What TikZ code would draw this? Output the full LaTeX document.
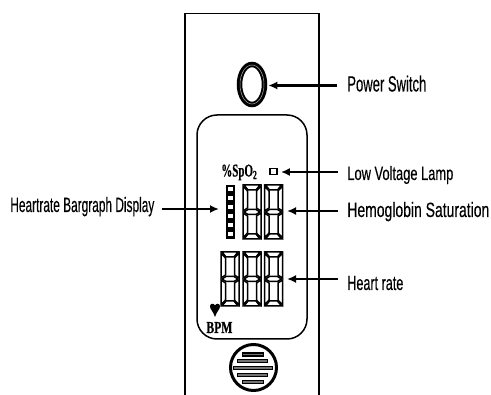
\documentclass[tikz,border=0pt]{standalone}
\usepackage{fontspec}
\setmainfont{Liberation Sans}
\newfontfamily\capfont{Liberation Sans}[FakeBold=0.35]
\newfontfamily\lcdfont{Liberation Serif Bold}[FakeBold=0.7]
\usetikzlibrary{arrows.meta,shapes.geometric}
\newdimen\px \px=0.02cm
\newcommand{\lbl}[3]{\resizebox{#1\px}{#2\px}{\capfont #3}}
\tikzset{
  x=0.02cm,y=-0.02cm,
  panel/.style={line width=1.5*0.02cm,draw=black},
  leader/.style={line width=2.2*0.02cm,draw=black,-{Latex[length=9*0.02cm,width=8*0.02cm]}},
  caption/.style={anchor=base west,inner sep=0pt,text=black},
  seg/.style={draw=black,line width=1.5*0.02cm},
  segd/.pic={
    \draw[seg] (1,0)--(17,0)--(13,5)--(5,5)--cycle;
    \draw[seg] (0,1)--(4.5,6)--(4.5,23)--(0,26)--cycle;
    \draw[seg] (18,1)--(13.5,6)--(13.5,23)--(18,26)--cycle;
    \draw[seg] (1,27)--(5,24.5)--(13,24.5)--(17,27)--(13,29.5)--(5,29.5)--cycle;
    \draw[seg] (0,28)--(4.5,31)--(4.5,48)--(0,53)--cycle;
    \draw[seg] (18,28)--(13.5,31)--(13.5,48)--(18,53)--cycle;
    \draw[seg] (1,54)--(5,49)--(13,49)--(17,54)--cycle;
  },
  grille/.style={draw=black,line width=1.6*0.02cm,fill=black!55,inner sep=0pt,rectangle,minimum height=3*0.02cm}
}
\begin{document}
\begin{tikzpicture}
\useasboundingbox (0,0) rectangle (491,395);
% housing
\draw[panel] (185,395)--(185,13.5)--(319,13.5)--(319,395);
% screen
\draw[panel,rounded corners=20*0.02cm] (197,115) rectangle (307,339);
% power button
\node[ellipse,draw=black,line width=5.5*0.02cm,minimum width=25*0.02cm,minimum height=40*0.02cm,inner sep=0pt] (button) at (252,84.5) {};
\node[ellipse,draw=black!35,line width=0.5*0.02cm,minimum width=24*0.02cm,minimum height=39*0.02cm,inner sep=0pt] (buttonring) at (252,84.5) {};
% lcd text
\node[anchor=base west,inner sep=0pt] (spo) at (221,176.5) {\resizebox{36\px}{12\px}{\lcdfont\%SpO\textsubscript{2}}};
\node[draw=black,line width=1.8*0.02cm,minimum width=7*0.02cm,minimum height=6*0.02cm,inner sep=0pt] (lamp) at (273.5,171.5) {};
% bargraph
\node[fill=black,minimum width=9.5*0.02cm,minimum height=54*0.02cm,inner sep=0pt] (bar) at (230.5,212) {};
\foreach \yy in {190,199,208,217,226,235}
  \fill[white] (228,\yy-2.5) rectangle (233,\yy+1.5);
% digits
\pic at (243,185) {segd};
\pic at (264.5,185) {segd};
\pic at (221,252) {segd};
\pic at (243,252) {segd};
\pic at (264.5,252) {segd};
\coordinate (dig) at (284,211);
\coordinate (rate) at (284,279);
% heart and BPM
\fill (215,317) .. controls (213,311) and (210,309) .. (210,306.5) .. controls (210,303) and (214,303) .. (215,305.5) .. controls (216,303) and (220,303) .. (220,306.5) .. controls (220,309) and (217,311) .. (215,317) -- cycle;
\node[anchor=base west,inner sep=0pt] (bpm) at (206,333) {\resizebox{26\px}{11\px}{\lcdfont BPM}};
% speaker
\node[circle,draw=black,line width=3*0.02cm,minimum size=46*0.02cm,inner sep=0pt] (spk) at (253.5,367.5) {};
\node[grille,minimum width=21*0.02cm] at (253,354.7) {};
\node[grille,minimum width=21*0.02cm] at (253,382) {};
\node[grille,minimum width=30*0.02cm] at (252.5,361.2) {};
\node[grille,minimum width=30*0.02cm] at (252.5,375) {};
\node[grille,minimum width=39*0.02cm] at (253,368) {};
% captions
\node[caption] (power) at (347,91.5) {\lbl{79}{16}{Power Switch}};
\node[caption] (low) at (347,180) {\lbl{106}{14}{Low Voltage Lamp}};
\node[caption] (hemo) at (347,217) {\lbl{142}{15}{Hemoglobin Saturation}};
\node[caption] (hr) at (347,290) {\lbl{56}{14}{Heart rate}};
\node[caption] (hbar) at (10,212) {\lbl{144}{15}{Heartrate Bargraph Display}};
% leaders
\coordinate (t1) at (337,85.5);
\coordinate (t2) at (338,172);
\coordinate (t3) at (338,211);
\coordinate (t4) at (338,279);
\coordinate (t5) at (162,209);
\coordinate (t5tip) at (219,209);
\draw[leader] (t1) -- ([xshift=1*0.02cm]button.east |- t1);
\draw[leader] (t2) -- ([xshift=3*0.02cm]lamp.east |- t2);
\draw[leader] (t3) -- ([xshift=3*0.02cm]dig);
\draw[leader] (t4) -- ([xshift=3*0.02cm]rate);
\draw[leader] (t5) -- (t5tip);
\end{tikzpicture}
\end{document}
